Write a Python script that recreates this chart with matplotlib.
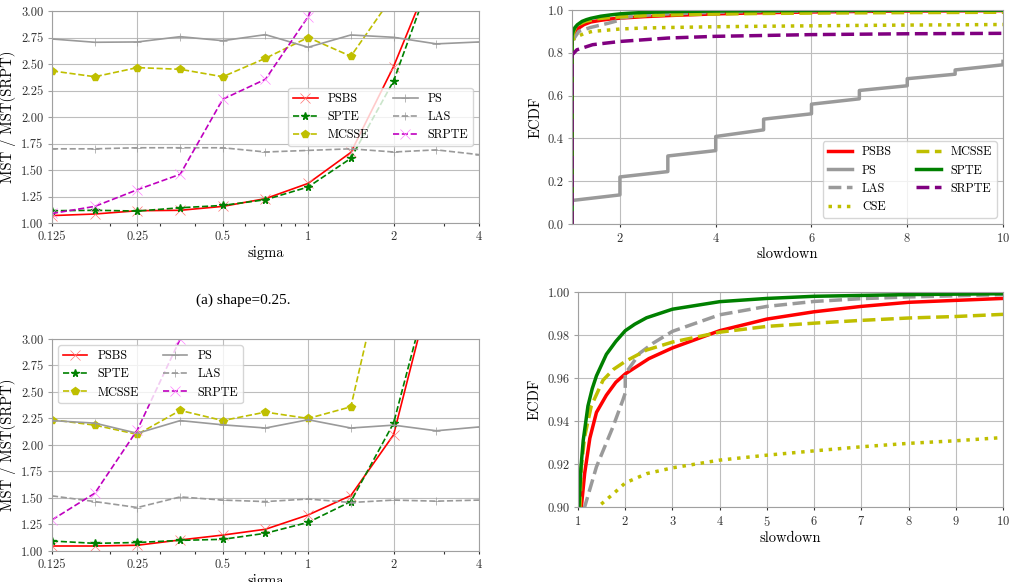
import numpy as np
import matplotlib
matplotlib.use("Agg")
import matplotlib.pyplot as plt
from matplotlib.ticker import NullFormatter, FormatStrFormatter

plt.rcParams['font.family'] = ['cmr10', 'DejaVu Serif']
plt.rcParams['axes.formatter.use_mathtext'] = True
plt.rcParams['mathtext.fontset'] = 'cm'

# ---- left panels: MST / MST(SRPT) vs sigma
sigma = [0.125, 0.177, 0.25, 0.354, 0.5, 0.707, 1.0, 1.414, 2.0, 2.83, 4.0]
sigma_ticks = [0.125, 0.25, 0.5, 1, 2, 4]
sigma_labels = ["0.125", "0.25", "0.5", "1", "2", "4"]

# shape = 0.25 (top)
a_psbs = [1.07, 1.085, 1.116, 1.12, 1.157, 1.23, 1.374, 1.666, 2.476, 3.46, 4.6]
a_spte = [1.116, 1.12, 1.113, 1.144, 1.166, 1.22, 1.34, 1.61, 2.34, 3.45, 4.6]
a_mcsse = [2.435, 2.38, 2.466, 2.45, 2.38, 2.554, 2.75, 2.573, 3.15, 3.8, 4.5]
a_ps = [2.736, 2.705, 2.708, 2.758, 2.72, 2.777, 2.658, 2.774, 2.752, 2.69, 2.708]
a_las = [1.70, 1.70, 1.71, 1.71, 1.71, 1.67, 1.685, 1.70, 1.67, 1.69, 1.645]
a_srpte = [1.09, 1.157, 1.314, 1.46, 2.168, 2.356, 2.947, 3.9, 4.8, 5.5, 6.0]

# bottom
b_psbs = [1.047, 1.047, 1.054, 1.104, 1.15, 1.205, 1.34, 1.523, 2.096, 3.68, 5.0]
b_spte = [1.094, 1.072, 1.08, 1.10, 1.11, 1.167, 1.27, 1.466, 2.206, 3.74, 5.0]
b_mcsse = [2.238, 2.187, 2.10, 2.326, 2.23, 2.31, 2.25, 2.36, 4.11, 5.0, 6.0]
b_ps = [2.23, 2.206, 2.11, 2.23, 2.19, 2.16, 2.238, 2.16, 2.187, 2.134, 2.17]
b_las = [1.52, 1.466, 1.41, 1.51, 1.48, 1.466, 1.49, 1.457, 1.48, 1.47, 1.48]
b_srpte = [1.293, 1.545, 2.143, 3.0, 4.0, 4.8, 5.5, 6.0, 6.5, 7.0, 7.5]

# ---- right panels: ECDF of slowdown
psbs_x = [1.0, 1.0, 1.07, 1.14, 1.25, 1.39, 1.6, 1.8, 2.0, 2.5, 3.0, 4.0, 5.0, 6.0, 7.0, 8.0, 9.0, 10.0]
psbs_y = [0.0, 0.86, 0.90, 0.9156, 0.932, 0.944, 0.952, 0.958, 0.9619, 0.969, 0.974, 0.982,
          0.9874, 0.9908, 0.9933, 0.9952, 0.9961, 0.997]
ps_x = [1, 1, 2, 2, 3, 3, 4, 4, 5, 5, 6, 6, 7, 7, 8, 8, 9, 9, 10, 10]
ps_y = [0.0, 0.11, 0.136, 0.22, 0.245, 0.318, 0.343, 0.409, 0.44, 0.49, 0.515, 0.56,
        0.585, 0.624, 0.646, 0.679, 0.70, 0.72, 0.744, 0.76]
las_x = [1.0, 1.0, 1.05, 1.14, 1.39, 1.74, 1.95, 2.0, 2.0, 2.31, 2.59, 3.0, 4.0, 5.0, 6.0, 7.0, 8.0, 10.0]
las_y = [0.0, 0.84, 0.87, 0.90, 0.9187, 0.9373, 0.9498, 0.953, 0.962, 0.9716, 0.9762, 0.9817,
         0.9894, 0.9933, 0.9956, 0.9969, 0.9977, 0.9988]
cse_x = [1.0, 1.0, 1.1, 1.25, 1.42, 1.74, 2.0, 2.45, 3.0, 4.0, 5.0, 6.0, 7.0, 8.0, 9.0, 10.0]
cse_y = [0.0, 0.86, 0.875, 0.89, 0.90, 0.906, 0.9112, 0.9155, 0.9182, 0.9218, 0.9241, 0.9261,
         0.928, 0.9296, 0.9308, 0.9323]
mcsse_x = [1.0, 1.0, 1.04, 1.07, 1.14, 1.28, 1.53, 1.75, 2.0, 2.45, 3.0, 4.0, 5.0, 6.0, 7.0, 8.0, 9.0, 10.0]
mcsse_y = [0.0, 0.86, 0.90, 0.9187, 0.9327, 0.947, 0.959, 0.964, 0.9677, 0.973, 0.9767, 0.9813,
           0.984, 0.9855, 0.9868, 0.9879, 0.9886, 0.9896]
spte_x = [1.0, 1.0, 1.02, 1.06, 1.11, 1.21, 1.3, 1.39, 1.6, 1.8, 2.0, 2.2, 2.45, 3.0, 4.0, 5.0, 6.0, 8.0, 10.0]
spte_y = [0.0, 0.88, 0.90, 0.918, 0.931, 0.947, 0.955, 0.961, 0.971, 0.977, 0.982, 0.985, 0.988,
          0.992, 0.9955, 0.997, 0.998, 0.9988, 0.9992]
srpte_x = [1.0, 1.0, 1.1, 1.43, 2.0, 3.0, 4.0, 6.0, 8.0, 10.0]
srpte_y = [0.0, 0.79, 0.814, 0.838, 0.853, 0.869, 0.877, 0.885, 0.889, 0.891]

GRAY = '#9a9a9a'
GRID = '#bdbdbd'
SPINE = '#a0a0a0'

fig = plt.figure(figsize=(10.15, 5.82), dpi=100)


def style(ax):
    ax.grid(True, color=GRID, lw=0.8)
    ax.set_axisbelow(True)
    for s in ax.spines.values():
        s.set_color(SPINE)
        s.set_linewidth(0.8)
    ax.tick_params(axis='both', which='both', labelsize=9, colors='#333333',
                   length=2.5, width=0.8, pad=3)
    ax.tick_params(axis='y', length=3, color=SPINE)


def mst_panel(ax, psbs, spte, mcsse, ps, las, srpte, loc):
    ax.plot(sigma, psbs, color='r', lw=1.2, marker='x', ms=6.5, mew=0.5, mec=(1, 0.45, 0.45), label='PSBS')
    ax.plot(sigma, spte, color='g', lw=1.2, ls='--', marker='*', ms=5.5, label='SPTE')
    ax.plot(sigma, mcsse, color='y', lw=1.2, ls='--', marker='p', ms=5.5, label='MCSSE')
    ax.plot(sigma, ps, color=GRAY, lw=1.2, marker='+', ms=6, mew=0.5, label='PS')
    ax.plot(sigma, las, color=GRAY, lw=1.2, ls='--', marker='+', ms=6, mew=0.5, label='LAS')
    ax.plot(sigma, srpte, color='m', lw=1.2, ls='--', marker='x', ms=6.5, mew=0.5, mec=(1, 0.5, 1), label='SRPTE')
    ax.set_xscale('log')
    ax.set_xlim(0.125, 4)
    ax.set_ylim(1.0, 3.0)
    ax.set_xticks(sigma_ticks, sigma_labels)
    ax.xaxis.set_minor_formatter(NullFormatter())
    ax.set_yticks(np.arange(1.0, 3.01, 0.25))
    ax.yaxis.set_major_formatter(FormatStrFormatter('%.2f'))
    ax.set_xlabel('sigma', fontsize=10.5, labelpad=2)
    ax.set_ylabel('MST / MST(SRPT)', fontsize=10.5)
    style(ax)
    ax.legend(ncol=2, loc=loc, fontsize=8.8, framealpha=0.8, edgecolor='#cccccc')


ax1 = fig.add_axes([0.0512, 0.6168, 0.4207, 0.3643])
mst_panel(ax1, a_psbs, a_spte, a_mcsse, a_ps, a_las, a_srpte, 'center right')

ax3 = fig.add_axes([0.0512, 0.0533, 0.4207, 0.3643])
mst_panel(ax3, b_psbs, b_spte, b_mcsse, b_ps, b_las, b_srpte, 'upper left')

fig.text(0.2394, 0.4845, '(a) shape=0.25.', fontsize=11, ha='center', va='center',
         family=['Liberation Serif', 'DejaVu Serif'])


def ecdf_panel(ax):
    ax.plot(psbs_x, psbs_y, color='r', lw=2.5, label='PSBS')
    ax.plot(ps_x, ps_y, color=GRAY, lw=2.5, label='PS')
    ax.plot(las_x, las_y, color=GRAY, lw=2.5, ls='--', label='LAS')
    ax.plot(cse_x, cse_y, color='y', lw=2.5, ls=':', label='CSE')
    ax.plot(mcsse_x, mcsse_y, color='y', lw=2.5, ls='--', label='MCSSE')
    ax.plot(spte_x, spte_y, color='g', lw=2.5, label='SPTE')
    ax.plot(srpte_x, srpte_y, color='purple', lw=2.5, ls='--', label='SRPTE')
    ax.set_xlim(1, 10)
    ax.set_xlabel('slowdown', fontsize=10.5, labelpad=2)
    ax.set_ylabel('ECDF', fontsize=10.5)
    style(ax)


ax2 = fig.add_axes([0.5636, 0.6151, 0.4246, 0.3677])
ecdf_panel(ax2)
ax2.set_ylim(0, 1.0)
ax2.set_xticks([2, 4, 6, 8, 10])
ax2.yaxis.set_major_formatter(FormatStrFormatter('%.1f'))
ax2.legend(ncol=2, loc='lower right', fontsize=8.8, framealpha=0.8, edgecolor='#cccccc')

ax4 = fig.add_axes([0.5695, 0.1289, 0.4187, 0.3694])
ecdf_panel(ax4)
ax4.set_ylim(0.90, 1.0)
ax4.set_xticks(range(1, 11))
ax4.set_yticks(np.arange(0.90, 1.001, 0.02))
ax4.yaxis.set_major_formatter(FormatStrFormatter('%.2f'))

fig.savefig('out.png', dpi=100)
